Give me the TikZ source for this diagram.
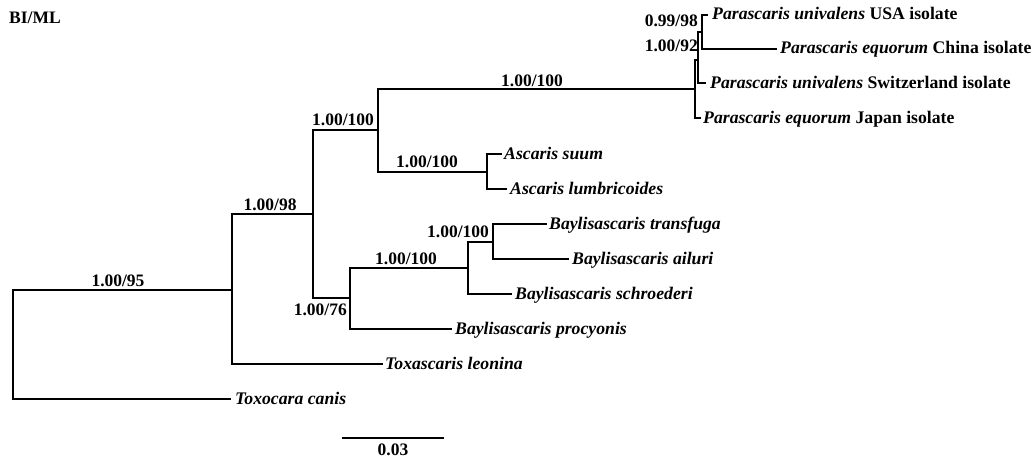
\documentclass[tikz,border=0pt]{standalone}
\usepackage{fontspec}
\setmainfont{Liberation Serif}
\begin{document}
\begin{tikzpicture}[x=1pt,y=-1pt,
  branch/.style={line width=1.8pt,line join=miter},
  tip/.style={anchor=base west,inner sep=0pt,font=\fontsize{17.7}{20}\selectfont\bfseries},
  supp/.style={anchor=base,inner sep=0pt,font=\fontsize{17.5}{20}\selectfont\bfseries}]
\useasboundingbox (0,0) rectangle (1035,460);
% inner nodes (x of vertical line, y of incoming branch)
\coordinate (root) at (13,344);
\coordinate (nA) at (232,290);
\coordinate (nB) at (313,214);
\coordinate (nC) at (378,130);
\coordinate (nP1) at (695,89);
\coordinate (nP2) at (698,60);
\coordinate (nP3) at (702,32);
\coordinate (nAs) at (487,172);
\coordinate (nD) at (350,298);
\coordinate (nE) at (468,268);
\coordinate (nF) at (493,242);
% tips
\coordinate (tToxo) at (231,399);
\coordinate (tToxa) at (383,364);
\coordinate (tJap) at (701,118);
\coordinate (tSwi) at (706,83);
\coordinate (tUSA) at (708,15);
\coordinate (tChi) at (777,49);
\coordinate (tSuum) at (502,154);
\coordinate (tLumb) at (507,189);
\coordinate (tTrans) at (547,224);
\coordinate (tAil) at (569,259);
\coordinate (tSchr) at (512,294);
\coordinate (tProc) at (452,329);
% branches
\draw[branch] (root) |- (nA);
\draw[branch] (root) |- (tToxo);
\draw[branch] (nA) |- (nB);
\draw[branch] (nA) |- (tToxa);
\draw[branch] (nB) |- (nC);
\draw[branch] (nB) |- (nD);
\draw[branch] (nC) |- (nP1);
\draw[branch] (nC) |- (nAs);
\draw[branch] (nP1) |- (nP2);
\draw[branch] (nP1) |- (tJap);
\draw[branch] (nP2) |- (nP3);
\draw[branch] (nP2) |- (tSwi);
\draw[branch] (nP3) |- (tUSA);
\draw[branch] (nP3) |- (tChi);
\draw[branch] (nAs) |- (tSuum);
\draw[branch] (nAs) |- (tLumb);
\draw[branch] (nD) |- (nE);
\draw[branch] (nD) |- (tProc);
\draw[branch] (nE) |- (nF);
\draw[branch] (nE) |- (tSchr);
\draw[branch] (nF) |- (tTrans);
\draw[branch] (nF) |- (tAil);
% tip labels
\node[tip] (lToxo) at ([xshift=4pt,yshift=-5pt]tToxo) {\textit{Toxocara canis}};
\node[tip] (lToxa) at ([xshift=2pt,yshift=-5pt]tToxa) {\textit{Toxascaris leonina}};
\node[tip] (lJap) at ([xshift=2pt,yshift=-5pt]tJap) {\textit{Parascaris equorum} Japan isolate};
\node[tip] (lSwi) at ([xshift=4pt,yshift=-5pt]tSwi) {\textit{Parascaris univalens} Switzerland isolate};
\node[tip] (lUSA) at ([xshift=4pt,yshift=-5pt]tUSA) {\textit{Parascaris univalens} USA isolate};
\node[tip] (lChi) at ([xshift=3pt,yshift=-5pt]tChi) {\textit{Parascaris equorum} China isolate};
\node[tip] (lSuum) at ([xshift=2pt,yshift=-5pt]tSuum) {\textit{Ascaris suum}};
\node[tip] (lLumb) at ([xshift=3pt,yshift=-5pt]tLumb) {\textit{Ascaris lumbricoides}};
\node[tip] (lTrans) at ([xshift=2pt,yshift=-5pt]tTrans) {\textit{Baylisascaris transfuga}};
\node[tip] (lAil) at ([xshift=3pt,yshift=-5pt]tAil) {\textit{Baylisascaris ailuri}};
\node[tip] (lSchr) at ([xshift=3pt,yshift=-5pt]tSchr) {\textit{Baylisascaris schroederi}};
\node[tip] (lProc) at ([xshift=3pt,yshift=-5pt]tProc) {\textit{Baylisascaris procyonis}};
% support values
\node[supp] (s95) at (118,286) {1.00/95};
\node[supp] (s98) at (270,210) {1.00/98};
\node[supp,anchor=base west] (sC) at (312,125) {1.00/100};
\node[supp,anchor=base east] (s76) at (347,315) {1.00/76};
\node[supp] (sP) at (532,86) {1.00/100};
\node[supp] (sAs) at (427,167) {1.00/100};
\node[supp] (sE) at (406,264) {1.00/100};
\node[supp] (sF) at (458,237) {1.00/100};
\node[supp,anchor=base east] (s9998) at (698,27) {0.99/98};
\node[supp,anchor=base east] (s92) at (698,52) {1.00/92};
\node[supp,anchor=base west] (title) at (9,24) {BI/ML};
% scale bar
\coordinate (sb1) at (342,438);
\coordinate (sb2) at (444,438);
\draw[branch] (sb1) -- (sb2);
\node[supp] (sbl) at (393,455) {0.03};
\end{tikzpicture}
\end{document}
